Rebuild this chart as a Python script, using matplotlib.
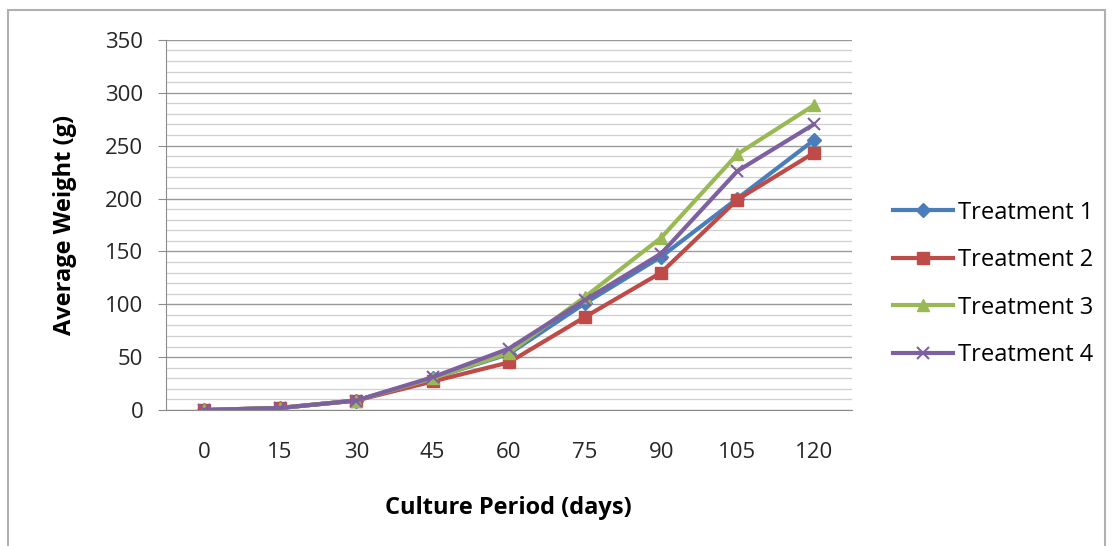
# Average weight over culture period, four treatments
import matplotlib
matplotlib.use("Agg")
import matplotlib.pyplot as plt
from matplotlib.patches import Rectangle
from matplotlib.ticker import MultipleLocator

plt.rcParams['font.family'] = ['Open Sans', 'DejaVu Sans']

# Data
days = [0, 15, 30, 45, 60, 75, 90, 105, 120]
treatment_1 = [0, 2, 9, 30, 53, 101, 145, 200, 255]
treatment_2 = [0, 2, 9, 27, 45, 88, 130, 199, 243]
treatment_3 = [0, 2, 9, 30, 54, 107, 163, 242, 288]
treatment_4 = [0, 2, 9, 31, 58, 104, 148, 226, 270]
series_names = ["Treatment 1", "Treatment 2", "Treatment 3", "Treatment 4"]

fig = plt.figure(figsize=(11.12, 5.46), dpi=100)
ax = fig.add_axes([0.149, 0.249, 0.617, 0.678])

# outer chart border
fig.patches.append(Rectangle((0.007, -0.01), 0.987, 0.992, transform=fig.transFigure,
                             fill=False, edgecolor='#b0b0b0', linewidth=1.5))

styles = [
    dict(color='#4A7EBB', marker='D', markersize=7),
    dict(color='#BE4B48', marker='s', markersize=9),
    dict(color='#98B954', marker='^', markersize=9),
    dict(color='#7D60A0', marker='x', markersize=9, markeredgewidth=1.5),
]
for vals, name, st in zip([treatment_1, treatment_2, treatment_3, treatment_4], series_names, styles):
    ax.plot(days, vals, linewidth=3.0, label=name, **st)

ax.set_xlim(-7.5, 127.5)
ax.set_ylim(0, 350)
ax.set_xticks(days)
ax.yaxis.set_major_locator(MultipleLocator(50))
ax.yaxis.set_minor_locator(MultipleLocator(10))
ax.grid(which='major', axis='y', color='#9a9a9a', linewidth=1.0)
ax.grid(which='minor', axis='y', color='#cfcfcf', linewidth=0.9)
ax.set_axisbelow(True)

for s in ['top', 'right']:
    ax.spines[s].set_visible(False)
for s in ['left', 'bottom']:
    ax.spines[s].set_color('#8c8c8c')
ax.tick_params(axis='y', which='major', length=6, color='#8c8c8c', labelsize=16,
               labelcolor='#262626', pad=10)
ax.tick_params(axis='y', which='minor', length=0)
ax.tick_params(axis='x', length=0, labelsize=16, labelcolor='#262626', pad=23)

ax.set_xlabel("Culture Period (days)", fontsize=17, fontweight='bold', labelpad=24)
ax.set_ylabel("Average Weight (g)", fontsize=17, fontweight='bold', labelpad=20)

ax.legend(loc='center left', bbox_to_anchor=(0.795, 0.48), bbox_transform=fig.transFigure,
          borderaxespad=0, frameon=False, fontsize=17, labelspacing=1.0,
          handlelength=2.5, handletextpad=0.25)

fig.savefig("out.png", dpi=100)
